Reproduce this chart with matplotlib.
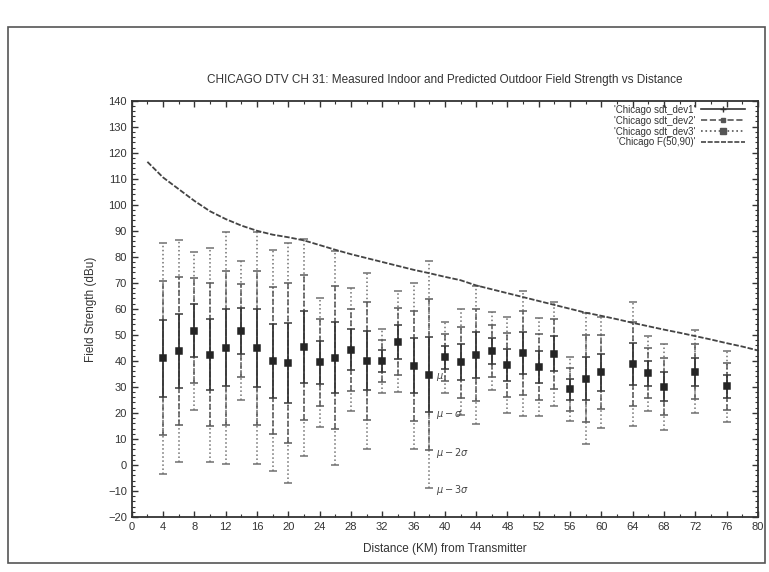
import matplotlib
matplotlib.use("Agg")
import matplotlib.pyplot as plt
from matplotlib.lines import Line2D
from matplotlib.patches import Rectangle
from matplotlib.ticker import MultipleLocator

plt.rcParams['font.family'] = ['Liberation Sans', 'DejaVu Sans']

# measured indoor field strength: mean and std dev at each distance (km)
dist = [4, 6, 8, 10, 12, 14, 16, 18, 20, 22, 24, 26, 28, 30, 32, 34, 36,
        38, 40, 42, 44, 46, 48, 50, 52, 54, 56, 58, 60, 64, 66, 68, 72, 76]
mu = [41.0, 43.8, 51.6, 42.4, 45.0, 51.6, 44.9, 40.0, 39.2, 45.2, 39.4, 41.2,
      44.3, 40.0, 40.0, 47.4, 38.1, 34.7, 41.3, 39.5, 42.3, 43.9, 38.4, 43.0,
      37.6, 42.7, 29.1, 33.2, 35.6, 38.8, 35.3, 30.1, 35.8, 30.2]
sigma = [14.8, 14.2, 10.1, 13.7, 14.85, 8.9, 14.85, 14.15, 15.35, 13.9, 8.3,
         13.7, 7.85, 11.3, 4.1, 6.5, 10.6, 14.5, 4.6, 6.8, 8.8, 5.0, 6.2, 8.0,
         6.3, 6.7, 4.1, 8.4, 7.1, 8.0, 4.8, 5.5, 5.3, 4.55]

# predicted outdoor F(50,90) curve
curve_x = [2, 4, 6, 8, 10, 12, 14, 16, 18, 20, 22, 24, 26, 28, 30, 32, 34, 36,
           38, 40, 42, 44, 46, 48, 50, 52, 54, 56, 58, 60, 62, 64, 66, 68, 70,
           72, 74, 76, 78, 80]
curve_y = [116.5, 110.5, 106.0, 101.5, 97.5, 94.5, 92.0, 90.0, 88.5, 87.5,
           86.3, 84.5, 82.7, 81.0, 79.5, 78.0, 76.5, 75.0, 73.7, 72.3, 71.0,
           69.0, 67.5, 66.0, 64.5, 63.0, 61.5, 60.0, 58.5, 57.3, 56.0, 54.6,
           53.3, 52.0, 50.8, 49.5, 48.2, 46.8, 45.5, 44.0]

labels = ["'Chicago sdt_dev1'", "'Chicago sdt_dev2'", "'Chicago sdt_dev3'",
          "'Chicago F(50,90)'"]

fig = plt.figure(figsize=(7.69, 5.72), dpi=100)
ax = fig.add_axes([0.1713, 0.0962, 0.8144, 0.7278])

# outer frame around the whole chart
fig.patches.append(Rectangle((8 / 769, 9 / 572), 757 / 769, 536 / 572,
                             transform=fig.transFigure, fill=False,
                             edgecolor='#555555', linewidth=1.2))

# error bars: 3 sigma dotted, 2 sigma dashed, 1 sigma solid
styles = [
    (3, ':', '#707070', 1.1, 's', 5.0),
    (2, '--', '#5a5a5a', 1.1, 's', 3.5),
    (1, '-', '#383838', 1.3, '+', 4.5),
]
for k, ls, col, lw, mk, ms in styles:
    eb = ax.errorbar(dist, mu, yerr=[k * s for s in sigma], fmt=mk,
                     color='#252525', ms=ms, ecolor=col, elinewidth=lw,
                     capsize=3, capthick=1.1, mew=1.1)
    eb[2][0].set_linestyle(ls)

ax.plot(curve_x, curve_y, color='#444444', lw=1.3, linestyle=(0, (3, 1)))

# annotations on the 38 km bar
i = dist.index(38)
notes = [r'$\mu$', r'$\mu - \sigma$', r'$\mu - 2\sigma$', r'$\mu - 3\sigma$']
for k, t in enumerate(notes):
    ax.text(dist[i] + 0.9, mu[i] - k * sigma[i] - 1.0, t, fontsize=7,
            color='#444444', va='center', ha='left')

ax.set_xlim(0, 80)
ax.set_ylim(-20, 140)
ax.xaxis.set_major_locator(MultipleLocator(4))
ax.xaxis.set_minor_locator(MultipleLocator(2))
ax.yaxis.set_major_locator(MultipleLocator(10))
ax.yaxis.set_minor_locator(MultipleLocator(2))
ax.tick_params(which='both', direction='in', top=True, right=True,
               labelsize=8, colors='#333333')
ax.tick_params(which='major', length=4, width=1)
ax.tick_params(which='minor', length=2, width=0.8)
for sp in ax.spines.values():
    sp.set_linewidth(1.3)
    sp.set_color('#333333')

ax.set_title('CHICAGO DTV CH 31: Measured Indoor and Predicted Outdoor '
             'Field Strength vs Distance', fontsize=8.5, color='#333333',
             pad=13)
ax.set_xlabel('Distance (KM) from Transmitter', fontsize=8.5,
              color='#333333', labelpad=8)
ax.set_ylabel('Field Strength (dBu)', fontsize=8.5, color='#333333',
              labelpad=8)

handles = [
    Line2D([], [], color='#333333', ls='-', marker='+', ms=5, lw=1.2),
    Line2D([], [], color='#555555', ls='--', marker='s', ms=3, lw=1.2),
    Line2D([], [], color='#555555', ls=':', marker='s', ms=4.5, lw=1.2),
    Line2D([], [], color='#444444', ls=(0, (3, 1)), lw=1.2),
]
ax.legend(handles, labels, loc='upper right', bbox_to_anchor=(0.985, 1.0),
          markerfirst=False, frameon=False, fontsize=7, handlelength=4.5,
          labelspacing=0.1, borderaxespad=0.0, handletextpad=0.6,
          labelcolor='#333333')

fig.savefig('out.png', dpi=100)
